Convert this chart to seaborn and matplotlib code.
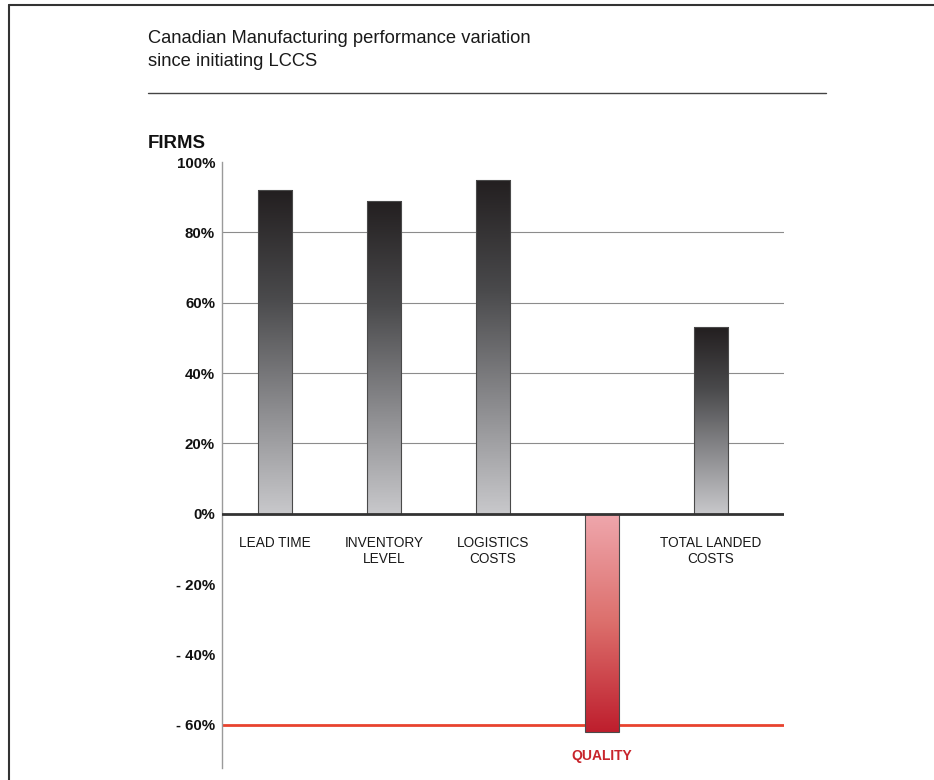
import numpy as np
import pandas as pd
import matplotlib
matplotlib.use('Agg')
import matplotlib.pyplot as plt
from matplotlib.colors import LinearSegmentedColormap
from matplotlib.lines import Line2D
import seaborn as sns


categories = ['LEAD TIME', 'INVENTORY\nLEVEL', 'LOGISTICS\nCOSTS', 'QUALITY', 'TOTAL LANDED\nCOSTS']
values = [92, 89, 95, -62, 53]
tick_values = [100, 80, 60, 40, 20, 0, -20, -40, -60]
tick_labels = ['100%', '80%', '60%', '40%', '20%', '0%', '- 20%', '- 40%', '- 60%']
grid_values = [20, 40, 60, 80]
threshold = -60


def gradient_fill(ax, patch, cmap):
    """
    Replace a bar's flat fill with a vertical gradient clipped to the bar
    """
    x0, y0 = patch.get_x(), patch.get_y()
    w, h = patch.get_width(), patch.get_height()
    ylo, yhi = min(y0, y0 + h), max(y0, y0 + h)
    grad = np.linspace(0, 1, 256).reshape(-1, 1)
    # far end of the bar is dark, baseline end is light
    if h < 0:
        grad = grad[::-1]
    im = ax.imshow(grad, cmap=cmap, aspect='auto', origin='lower',
                   extent=[x0, x0 + w, ylo, yhi], zorder=2)
    im.set_clip_path(patch)
    patch.set_facecolor('none')
    patch.set_edgecolor('#4a4a4a')
    patch.set_linewidth(0.8)
    patch.set_zorder(3)


def main():
    sns.set_style('white')
    plt.rcParams['font.family'] = ['Liberation Sans Narrow', 'Liberation Sans', 'DejaVu Sans']

    df = pd.DataFrame({'category': categories, 'value': values})

    fig = plt.figure(figsize=(9.34, 7.80), dpi=100)
    ax = fig.add_axes([222 / 934, 1 - 768 / 780, 562 / 934, 606 / 780])

    sns.barplot(data=df, x='category', y='value', ax=ax, width=0.32,
                color='#777777', saturation=1, zorder=2)

    grey_cmap = LinearSegmentedColormap.from_list('greys', ['#c8c8cb', '#8a8a8d', '#4a4a4c', '#231f20'])
    red_cmap = LinearSegmentedColormap.from_list('reds', ['#efa7ad', '#dc6f6c', '#be1e2d'])
    for patch, v in zip(ax.patches, values):
        gradient_fill(ax, patch, red_cmap if v < 0 else grey_cmap)

    ax.set_xlim(-0.486, 4.67)
    ax.set_ylim(-72.3, 100)

    for g in grid_values:
        ax.axhline(g, color='#8c8c8c', lw=0.8, zorder=1)
    ax.axhline(0, color='#333333', lw=2, zorder=4)
    ax.axhline(threshold, color='#e8432f', lw=2, zorder=1)

    ax.set_yticks(tick_values)
    ax.set_yticklabels(tick_labels, fontsize=10.8, fontweight='bold', color='#111111')
    ax.tick_params(axis='y', length=0, pad=5)
    ax.set_xticks([])
    ax.set_xlabel('')
    ax.set_ylabel('')

    sns.despine(ax=ax, top=True, right=True, bottom=True)
    ax.spines['left'].set_color('#9a9a9a')
    ax.spines['left'].set_linewidth(1)

    # category names sit just under the zero line, quality is called out in red below
    for i, (cat, v) in enumerate(zip(categories, values)):
        if v < 0:
            ax.text(i, -68.8, cat, ha='center', va='center', fontsize=10,
                    fontweight='bold', color='#c8242b')
        else:
            ax.text(i, -6.3, cat, ha='center', va='top', fontsize=9.8,
                    color='#1a1a1a', linespacing=1.2)

    fig.text(148 / 934, 1 - 30 / 780,
             'Canadian Manufacturing performance variation\nsince initiating LCCS',
             ha='left', va='top', fontsize=13.2, color='#1a1a1a', linespacing=1.5)
    fig.text(148 / 934, 1 - 143 / 780, 'FIRMS', ha='left', va='center',
             fontsize=13.4, fontweight='bold', color='#111111')

    # rule under the title and the page frame
    fig.add_artist(Line2D([148 / 934, 826 / 934], [1 - 93 / 780, 1 - 93 / 780],
                          color='#444444', lw=1))
    fig.add_artist(Line2D([9 / 934, 1], [1 - 5 / 780, 1 - 5 / 780], color='#333333', lw=1.5))
    fig.add_artist(Line2D([9 / 934, 9 / 934], [0, 1 - 5 / 780], color='#333333', lw=1.5))

    fig.savefig('out.png', dpi=100, facecolor='white')


if __name__ == '__main__':
    main()
